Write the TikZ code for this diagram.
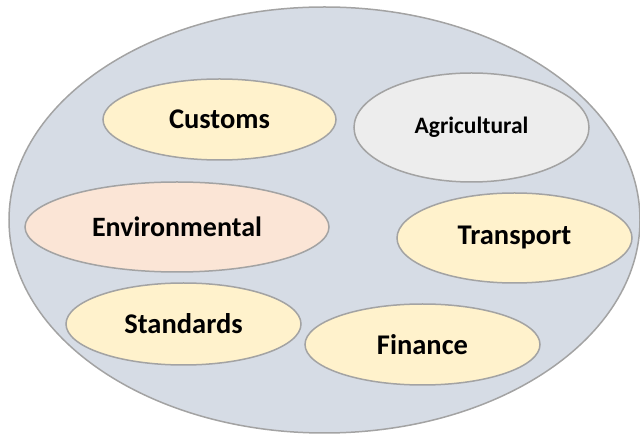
\documentclass[tikz,border=0pt]{standalone}
\usepackage{fontspec}
\setmainfont{Carlito}
\usetikzlibrary{shapes.geometric}
\definecolor{outerfill}{HTML}{D6DCE5}
\definecolor{edgegray}{HTML}{A3A3A3}
\definecolor{yellowfill}{HTML}{FFF2CC}
\definecolor{peachfill}{HTML}{FBE5D6}
\definecolor{grayfill}{HTML}{EDEDED}
\tikzset{
  blob/.style={ellipse, draw=edgegray, line width=1.5pt, inner sep=0pt,
    font=\bfseries\fontsize{28.5}{30}\selectfont, text=black},
  yblob/.style={blob, fill=yellowfill},
}
\begin{document}
\begin{tikzpicture}[x=1pt,y=-1pt]
\useasboundingbox (0,0) rectangle (640,435);
\node[ellipse, draw=edgegray, line width=1.5pt, fill=outerfill, inner sep=0pt,
      minimum width=631pt, minimum height=426pt] (outer) at (324.5,220) {};
\node[yblob, minimum width=233pt, minimum height=81pt] (customs) at (219.5,119.5) {Customs};
\node[blob, fill=grayfill, minimum width=235pt, minimum height=109pt,
      font=\bfseries\fontsize{23.5}{25}\selectfont] (agri) at (471.5,127.5) {Agricultural};
\node[blob, fill=peachfill, minimum width=304pt, minimum height=90pt,
      font=\bfseries\fontsize{28}{30}\selectfont] (env) at (177,227) {Environmental};
\node[yblob, minimum width=235pt, minimum height=90pt] (transport) at (514.5,238) {Transport};
\node[yblob, minimum width=235pt, minimum height=82pt] (standards) at (183.5,324) {Standards};
\node[yblob, minimum width=235pt, minimum height=81pt] (finance) at (422.5,344.5) {Finance};
\end{tikzpicture}
\end{document}
